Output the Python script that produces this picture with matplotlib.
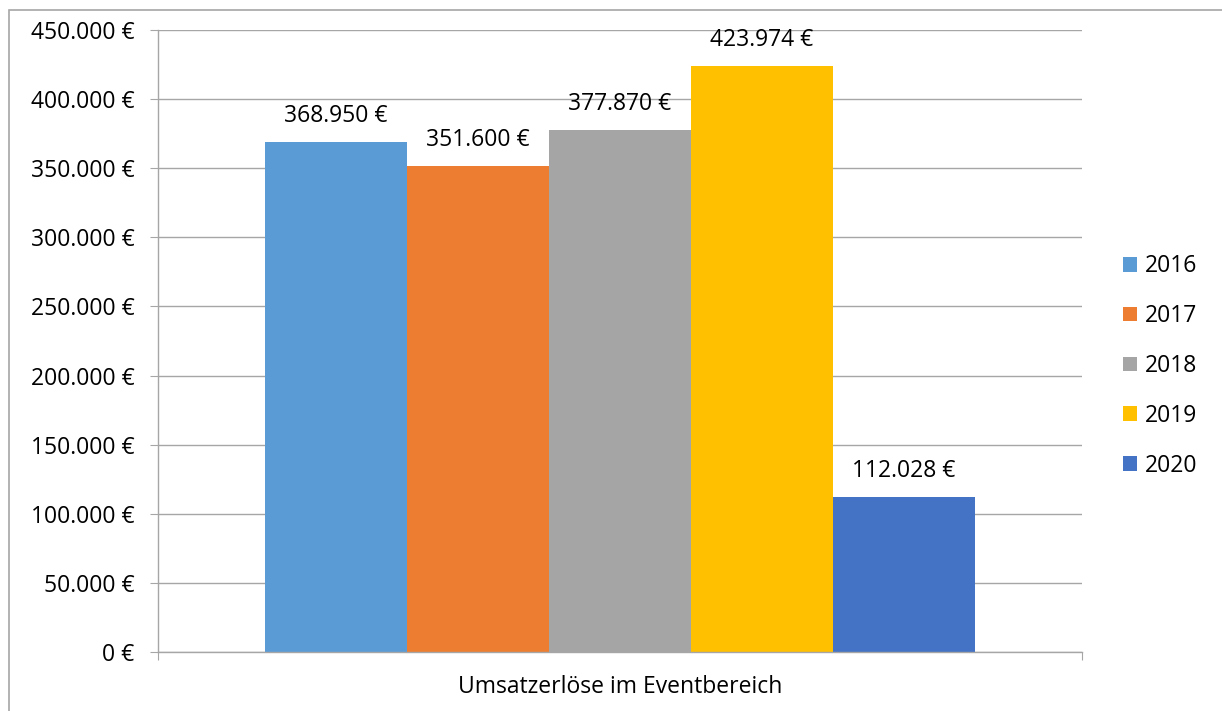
import matplotlib
matplotlib.use("Agg")
import matplotlib.pyplot as plt
from matplotlib.patches import Rectangle, Patch
from matplotlib.ticker import FuncFormatter

years = ["2016", "2017", "2018", "2019", "2020"]
revenue = [368950, 351600, 377870, 423974, 112028]
colors = ["#5b9bd5", "#ed7d31", "#a5a5a5", "#ffc000", "#4472c4"]
category = "Umsatzerlöse im Eventbereich"
yticks = list(range(0, 450001, 50000))

plt.rcParams["font.family"] = ["Open Sans", "DejaVu Sans"]
FS = 16.5

W, H = 1222, 711
fig = plt.figure(figsize=(W / 100, H / 100), dpi=100)

# outer chart frame
fig.patches.append(Rectangle((9 / W, -0.1), 1.2, 1 - 10 / H + 0.1,
                             transform=fig.transFigure, fill=False,
                             edgecolor="#a6a6a6", linewidth=1.2, zorder=0))

ax = fig.add_axes([158 / W, 1 - 652 / H, (1082 - 158) / W, (652 - 30) / H])

def fmt_eur(v):
    s = f"{int(round(v)):,}".replace(",", ".")
    return f"{s} €"

bar_w = 142 / 924
x0 = 0.5 - 2.5 * bar_w
for i, (yr, val, c) in enumerate(zip(years, revenue, colors)):
    xc = x0 + (i + 0.5) * bar_w
    ax.bar(xc, val, width=bar_w, color=c, zorder=2, label=yr)
    ax.annotate(fmt_eur(val), (xc, val), xytext=(0, 10), textcoords="offset points",
                ha="center", va="bottom", fontsize=FS, color="#000000")

ax.set_xlim(0, 1)
ax.set_ylim(0, 450000)
ax.set_yticks(yticks)
ax.yaxis.set_major_formatter(FuncFormatter(lambda v, p: fmt_eur(v)))
ax.yaxis.grid(True, color="#a6a6a6", linewidth=1.0, zorder=0)
ax.set_axisbelow(True)
ax.tick_params(axis="y", length=6, color="#a6a6a6", labelsize=FS, pad=11)
ax.set_xticks([0, 1])
ax.set_xticklabels(["", ""])
ax.tick_params(axis="x", length=6, color="#a6a6a6", direction="out")
fig.text(620 / W, 1 - 687 / H, category, ha="center", va="center", fontsize=FS)
for side in ["top", "right"]:
    ax.spines[side].set_visible(False)
for side in ["left", "bottom"]:
    ax.spines[side].set_color("#a6a6a6")
    ax.spines[side].set_linewidth(1.0)

handles = [Patch(facecolor=c, label=y) for y, c in zip(years, colors)]
fig.legend(handles=handles, loc="center left", bbox_to_anchor=(1123 / W, 1 - 366 / H),
           frameon=False, fontsize=FS, handlelength=0.62, handleheight=0.62,
           handletextpad=0.35, labelspacing=1.13, borderpad=0, borderaxespad=0)

fig.savefig("out.png", dpi=100)
